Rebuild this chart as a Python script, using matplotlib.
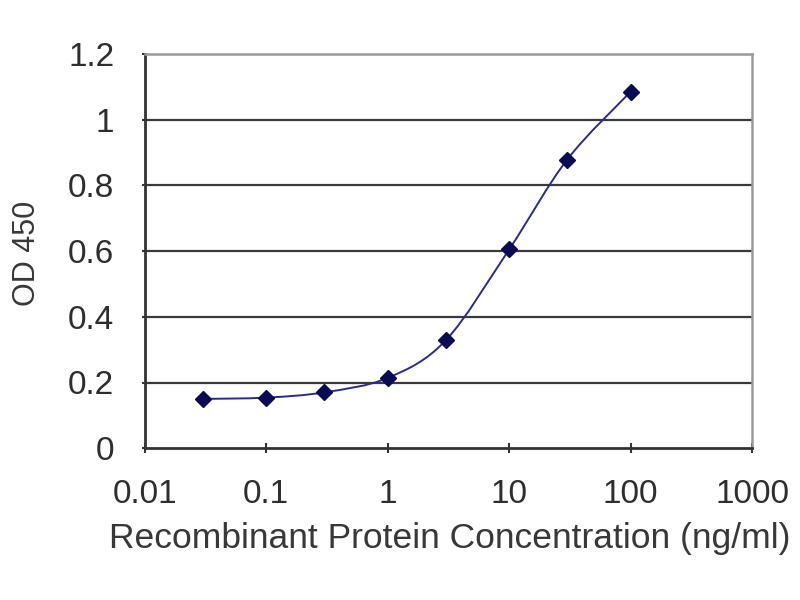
import numpy as np
import matplotlib
matplotlib.use('Agg')
import matplotlib.pyplot as plt
from matplotlib.path import Path
from matplotlib.patches import PathPatch

plt.rcParams['font.family'] = ['Liberation Sans', 'DejaVu Sans']

# concentration (ng/ml) and OD 450 readings
conc = [0.03, 0.1, 0.3, 1, 3, 10, 30, 100]
od450 = [0.150, 0.154, 0.170, 0.214, 0.328, 0.605, 0.878, 1.085]

xticks = [0.01, 0.1, 1, 10, 100, 1000]
xticklabels = ['0.01', '0.1', '1', '10', '100', '1000']
yticks = [0, 0.2, 0.4, 0.6, 0.8, 1.0, 1.2]
yticklabels = ['0', '0.2', '0.4', '0.6', '0.8', '1', '1.2']

line_col = '#2b2b8a'
mark_col = '#0a0a55'

fig = plt.figure(figsize=(8, 6), dpi=100)
ax = fig.add_axes([0.181, 0.253, 0.759, 0.657])
ax.set_xscale('log')
ax.set_xlim(0.01, 1000)
ax.set_ylim(0, 1.2)

# gridlines
for yv in yticks[1:-1]:
    ax.axhline(yv, color='#3a3a3a', lw=1.6, zorder=1)

# smoothed line (bezier through points, built in log-x space)
lx = np.log10(conc)
ly = np.array(od450)
verts = [(conc[0], od450[0])]
codes = [Path.MOVETO]
n = len(lx)
for i in range(n - 1):
    p0 = (lx[max(i - 1, 0)], ly[max(i - 1, 0)])
    p1 = (lx[i], ly[i])
    p2 = (lx[i + 1], ly[i + 1])
    p3 = (lx[min(i + 2, n - 1)], ly[min(i + 2, n - 1)])
    c1 = (p1[0] + (p2[0] - p0[0]) / 6, p1[1] + (p2[1] - p0[1]) / 6)
    c2 = (p2[0] - (p3[0] - p1[0]) / 6, p2[1] - (p3[1] - p1[1]) / 6)
    verts += [(10 ** c1[0], c1[1]), (10 ** c2[0], c2[1]), (10 ** p2[0], p2[1])]
    codes += [Path.CURVE4] * 3
ax.add_patch(PathPatch(Path(verts, codes), fill=False, edgecolor=line_col,
                       lw=1.4, transform=ax.transData, zorder=3))

ax.plot(conc, od450, linestyle='none', marker='D', markersize=8.5,
        color=mark_col, zorder=4)

ax.set_xticks(xticks)
ax.set_xticklabels(xticklabels)
ax.xaxis.set_minor_locator(matplotlib.ticker.NullLocator())
ax.set_yticks(yticks)
ax.set_yticklabels(yticklabels)

ax.tick_params(axis='x', direction='inout', length=7, width=1.5,
               color='#333333', labelsize=24, pad=19, labelcolor='#2e2e2e')
ax.tick_params(axis='y', direction='out', length=2, width=1.5,
               color='#333333', labelsize=24, pad=20, labelcolor='#2e2e2e')

for s in ['left', 'bottom']:
    ax.spines[s].set_color('#333333')
    ax.spines[s].set_linewidth(2)
for s in ['top', 'right']:
    ax.spines[s].set_color('#999999')
    ax.spines[s].set_linewidth(1.8)

ax.set_xlabel('Recombinant Protein Concentration (ng/ml)', fontsize=25.5,
              color='#383838')
ax.xaxis.set_label_coords(0.502, -0.188)
ax.set_ylabel('OD 450', fontsize=22, color='#383838')
ax.yaxis.set_label_coords(-0.17, 0.495)

fig.savefig('out.png', dpi=100)
